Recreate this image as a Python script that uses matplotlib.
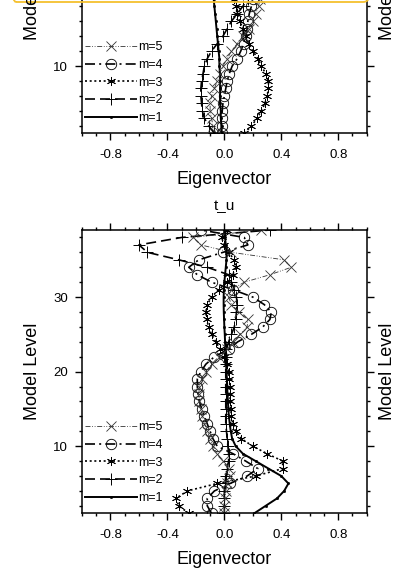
import numpy as np
import matplotlib
matplotlib.use("Agg")
import matplotlib.pyplot as plt
from matplotlib.ticker import MultipleLocator, FormatStrFormatter
from matplotlib.patches import FancyBboxPatch
from matplotlib.transforms import IdentityTransform

plt.rcParams['font.family'] = ['Liberation Sans', 'DejaVu Sans']
plt.rcParams['axes.unicode_minus'] = False

# ---------------- data ----------------
levels = list(range(1, 40))
series_labels = ["m=1", "m=2", "m=3", "m=4", "m=5"]
xtick_vals = [-0.8, -0.4, 0.0, 0.4, 0.8]
ytick_vals = [10, 20, 30]
bottom_title = "t_u"
xlabel_text = "Eigenvector"
ylabel_text = "Model Level"

top_m1 = [-0.02, -0.02, -0.025, -0.025, -0.03, -0.03, -0.03, -0.03, -0.03, -0.035,
          -0.035, -0.04, -0.045, -0.05, -0.055, -0.06, -0.065, -0.07, -0.075, -0.08,
          -0.08, -0.085, -0.085, -0.09, -0.09, -0.09, -0.09, -0.085, -0.085, -0.08,
          -0.08, -0.075, -0.07, -0.07, -0.065, -0.06, -0.06, -0.055, -0.05]
top_m2 = [-0.07, -0.11, -0.14, -0.155, -0.16, -0.165, -0.165, -0.16, -0.15, -0.14,
          -0.12, -0.09, -0.05, -0.01, 0.02, 0.05, 0.09, 0.13, 0.165, 0.2,
          0.23, 0.26, 0.28, 0.3, 0.31, 0.31, 0.3, 0.28, 0.26, 0.23,
          0.2, 0.17, 0.14, 0.11, 0.08, 0.06, 0.04, 0.03, 0.02]
top_m3 = [0.14, 0.19, 0.23, 0.26, 0.285, 0.3, 0.31, 0.31, 0.29, 0.26,
          0.235, 0.2, 0.17, 0.15, 0.13, 0.11, 0.09, 0.08, 0.07, 0.06,
          0.05, 0.03, 0.01, -0.01, -0.03, -0.05, -0.07, -0.09, -0.1, -0.11,
          -0.11, -0.1, -0.09, -0.07, -0.05, -0.03, -0.01, 0.0, 0.01]
top_m4 = [-0.02, -0.02, -0.02, -0.015, -0.01, 0.0, 0.01, 0.02, 0.035, 0.055,
          0.09, 0.115, 0.135, 0.15, 0.16, 0.165, 0.175, 0.19, 0.2, 0.21,
          0.21, 0.2, 0.18, 0.15, 0.11, 0.07, 0.02, -0.02, -0.06, -0.09,
          -0.11, -0.12, -0.11, -0.09, -0.06, -0.03, 0.0, 0.02, 0.03]
top_m5 = [-0.06, -0.08, -0.09, -0.1, -0.1, -0.09, -0.07, -0.05, -0.03, -0.01,
          0.02, 0.05, 0.09, 0.13, 0.17, 0.2, 0.22, 0.24, 0.25, 0.25,
          0.24, 0.22, 0.19, 0.15, 0.1, 0.05, 0.0, -0.05, -0.09, -0.12,
          -0.13, -0.12, -0.1, -0.06, -0.02, 0.02, 0.05, 0.07, 0.08]

bot_m1 = [0.21, 0.29, 0.37, 0.42, 0.45, 0.4, 0.31, 0.22, 0.13, 0.08,
          0.055, 0.045, 0.038, 0.032, 0.028, 0.025, 0.022, 0.02, 0.018, 0.015,
          0.012, 0.01, 0.008, 0.005, 0.003, 0.0, -0.002, -0.004, -0.005, -0.005,
          -0.003, 0.0, 0.005, 0.01, 0.015, 0.015, 0.01, 0.005, 0.0]
bot_m2 = [0.0, 0.0, 0.0, 0.0, 0.005, 0.01, 0.02, 0.03, 0.03, 0.025,
          0.02, 0.015, 0.01, 0.01, 0.01, 0.01, 0.01, 0.01, 0.01, 0.01,
          0.01, 0.01, 0.015, 0.03, 0.05, 0.07, 0.08, 0.085, 0.09, 0.085,
          0.07, 0.05, 0.03, -0.12, -0.32, -0.54, -0.6, -0.3, 0.32]
bot_m3 = [-0.25, -0.32, -0.34, -0.26, -0.05, 0.22, 0.41, 0.41, 0.3, 0.2,
          0.12, 0.08, 0.06, 0.05, 0.045, 0.04, 0.04, 0.04, 0.035, 0.03,
          0.02, 0.0, -0.03, -0.06, -0.09, -0.11, -0.125, -0.13, -0.12, -0.09,
          -0.04, 0.02, 0.06, 0.08, 0.07, 0.03, 0.0, -0.02, 0.02]
bot_m4 = [-0.09, -0.12, -0.12, -0.07, 0.04, 0.16, 0.235, 0.15, 0.06, -0.05,
          -0.08, -0.1, -0.12, -0.14, -0.16, -0.175, -0.185, -0.19, -0.19, -0.165,
          -0.13, -0.07, 0.03, 0.094, 0.19, 0.27, 0.32, 0.33, 0.28, 0.2,
          0.06, -0.09, -0.19, -0.25, -0.18, -0.01, 0.165, 0.14, -0.165]
bot_m5 = [0.0, 0.0, 0.005, 0.01, 0.02, 0.04, 0.03, -0.01, -0.05, -0.08,
          -0.1, -0.12, -0.14, -0.155, -0.165, -0.175, -0.18, -0.175, -0.16, -0.13,
          -0.09, -0.04, 0.02, 0.06, 0.11, 0.16, 0.165, 0.1, 0.05, 0.03,
          0.05, 0.14, 0.32, 0.47, 0.42, 0.05, -0.165, -0.22, 0.26]

top_series = [top_m1, top_m2, top_m3, top_m4, top_m5]
bot_series = [bot_m1, bot_m2, bot_m3, bot_m4, bot_m5]

# ---------------- styles ----------------
styles = [
    dict(ls='-', lw=1.4, marker='o', ms=1.6, mfc='black', mec='black', mew=0.5, color='black'),
    dict(ls=(0, (6, 3)), lw=1.2, marker='+', ms=8, mew=0.7, color='black'),
    dict(ls=(0, (1.2, 1.6)), lw=1.2, marker=(6, 2, 0), ms=6.5, mew=0.6, color='black'),
    dict(ls=(0, (6, 2.5, 1.2, 2.5)), lw=1.2, marker='o', ms=7.5, mfc='none', mec='black', mew=0.6, color='black'),
    dict(ls=(0, (6, 2, 1, 2, 1, 2)), lw=0.6, marker='x', ms=7, mew=0.6, color='#333333'),
]

W, H = 412, 569
fig = plt.figure(figsize=(W / 100, H / 100), dpi=100)

ax_left, ax_right = 82, 366.7


def make_ax(top_px, bottom_px):
    return fig.add_axes([ax_left / W, 1 - bottom_px / H,
                         (ax_right - ax_left) / W, (bottom_px - top_px) / H])


ax_top = make_ax(-150.6, 133.3)
ax_bot = make_ax(230.0, 513.3)

for ax, series in [(ax_top, top_series), (ax_bot, bot_series)]:
    handles = []
    for vals, st, lab in zip(series, styles, series_labels):
        h, = ax.plot(vals, levels, label=lab, **st)
        handles.append(h)
    ax.set_xlim(-1, 1)
    ax.set_ylim(1, 39)
    ax.set_xticks(xtick_vals)
    ax.xaxis.set_major_formatter(FormatStrFormatter('%.1f'))
    ax.xaxis.set_minor_locator(MultipleLocator(0.1))
    ax.set_yticks(ytick_vals)
    ax.yaxis.set_minor_locator(MultipleLocator(2))
    ax.tick_params(which='both', direction='out', top=True, right=True,
                   width=1.0, labelsize=9.5)
    ax.tick_params(which='major', length=5)
    ax.tick_params(which='minor', length=2.5)
    ax.tick_params(axis='x', which='major', pad=6)
    ax.tick_params(axis='y', which='major', pad=5)
    for sp in ax.spines.values():
        sp.set_linewidth(1.1)
    leg = ax.legend(handles[::-1], series_labels[::-1], loc='lower left',
                    bbox_to_anchor=(0.012, 0.033), frameon=False, fontsize=9,
                    handlelength=4.1, handletextpad=0.1, labelspacing=0.45,
                    borderpad=0, borderaxespad=0, numpoints=1)

# axis labels as figure text
fs_lab = 13
xc = (ax_left + ax_right) / 2
fig.text(xc / W, 1 - 180 / H, xlabel_text, ha='center', va='center', fontsize=fs_lab)
fig.text(xc / W, 1 - 560 / H, xlabel_text, ha='center', va='center', fontsize=fs_lab)
fig.text(xc / W, 1 - 206 / H, bottom_title, ha='center', va='center', fontsize=11)
for xpx in (32.5, 387.7):
    fig.text(xpx / W, 1 + 8.6 / H, ylabel_text, ha='center', va='center',
             rotation=90, fontsize=fs_lab)
    fig.text(xpx / W, 1 - 371.7 / H, ylabel_text, ha='center', va='center',
             rotation=90, fontsize=fs_lab)

# highlight box cut off at top
box = FancyBboxPatch((10, H - 2.0), 359, 60,
                     boxstyle="round,pad=0,rounding_size=6",
                     transform=IdentityTransform(), fill=False,
                     ec='#f5c02e', lw=1.3)
fig.add_artist(box)

fig.savefig("out.png", dpi=100)
